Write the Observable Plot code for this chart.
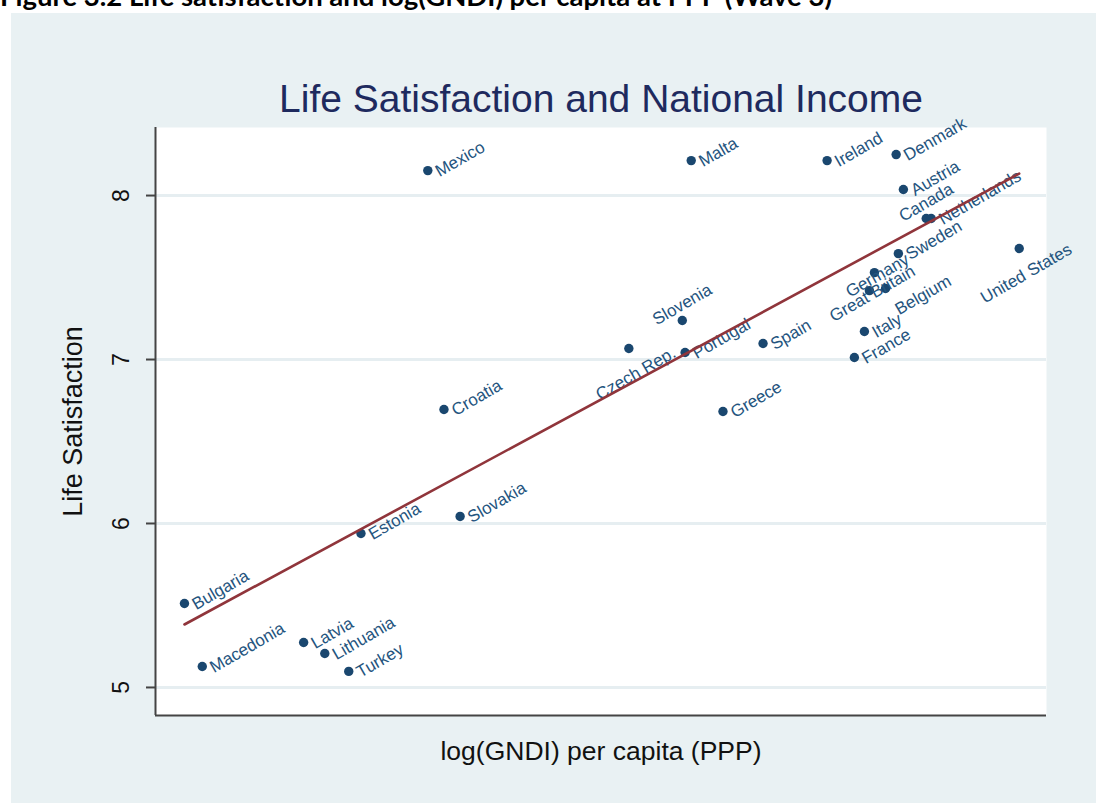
<!DOCTYPE html>
<html>
<head>
<meta charset="utf-8">
<script src="https://cdn.jsdelivr.net/npm/d3@7"></script>
<script src="https://cdn.jsdelivr.net/npm/@observablehq/plot@0.6"></script>
<style>
  body { margin: 0; background: #ffffff; width: 1096px; height: 803px; position: relative; overflow: hidden; }
  #cap { position: absolute; left: 0; top: 0; width: 1096px; height: 12px; overflow: hidden; }
  #cap span { position: absolute; left: 0; top: -18px; font: bold 27.5px/28px Lato, "Open Sans", sans-serif; color: #000; white-space: nowrap; }
  #panel { position: absolute; left: 11px; top: 13px; width: 1085px; height: 790px; background: #e9f1f3; }
</style>
</head>
<body>
<div id="cap"><span>Figure 3.2 Life satisfaction and log(GNDI) per capita at PPP (Wave 3)</span></div>
<div id="panel"></div>
<script>
// ---- data ----
const countries = ["Mexico","Malta","Ireland","Denmark","Austria","Canada","Netherlands","Sweden","United States","Germany","Great Britain","Belgium","Italy","France","Spain","Slovenia","Portugal","Czech Rep.","Greece","Croatia","Slovakia","Estonia","Bulgaria","Macedonia","Latvia","Lithuania","Turkey"];
const logGNDI   = [9.639,10.112,10.356,10.480,10.493,10.534,10.543,10.484,10.701,10.441,10.432,10.461,10.423,10.405,10.241,10.096,10.101,10.000,10.169,9.668,9.697,9.519,9.202,9.234,9.416,9.454,9.497];
const lifeSat   = [8.152,8.213,8.213,8.250,8.037,7.860,7.860,7.646,7.677,7.530,7.420,7.433,7.171,7.012,7.098,7.238,7.043,7.067,6.683,6.695,6.043,5.939,5.512,5.128,5.274,5.207,5.098];
// Stata-style clock position of each marker label
const labelClock = [3,3,3,3,3,12,3,3,6,0,0,4,3,3,3,12,3,6,3,3,3,3,3,3,3,3,3];
// fitted line (linear fit) end points
const fitX = [9.202, 10.701];
const fitY = [5.384, 8.134];
const yTicks = [5, 6, 7, 8];
const xDomain = [9.15, 10.75];
const yDomain = [4.829, 8.415];
const titleText = "Life Satisfaction and National Income";
const xTitle = "log(GNDI) per capita (PPP)";
const yTitle = "Life Satisfaction";

// ---- build ----
const rows = countries.map((c, i) => ({country: c, x: logGNDI[i], y: lifeSat[i], clock: labelClock[i]}));
const fit = fitX.map((x, i) => ({x, y: fitY[i]}));

const FONT = "Liberation Sans, Arial, Helvetica, sans-serif";
const NAVY = "#1a476f";
const clockStyle = {
  3:  {dx: 9,  dy: 2,   textAnchor: "start"},
  12: {dx: 0,  dy: -16, textAnchor: "middle"},
  6:  {dx: 7,  dy: 25,  textAnchor: "middle"},
  0:  {dx: 3,  dy: 3,   textAnchor: "middle"},
  4:  {dx: 11, dy: 22,  textAnchor: "start"}
};
const labelMarks = Object.entries(clockStyle).map(([k, s]) =>
  Plot.text(rows.filter(d => d.clock === +k), {
    x: "x", y: "y", text: "country",
    rotate: -30, lineAnchor: "middle",
    fontSize: 17, fill: "#24547e", fontFamily: FONT,
    ...s
  })
);

const chart = Plot.plot({
  width: 1085,
  height: 789,
  marginLeft: 144,
  marginRight: 50,
  marginTop: 114,
  marginBottom: 87,
  style: {background: "transparent", fontFamily: FONT, overflow: "visible"},
  x: {domain: xDomain, axis: null},
  y: {domain: yDomain, axis: null},
  marks: [
    Plot.frame({fill: "white", stroke: "none"}),
    Plot.gridY(yTicks, {stroke: "#e6eef1", strokeOpacity: 1, strokeWidth: 3}),
    Plot.ruleY([yDomain[0]], {stroke: "#444", strokeWidth: 2}),
    Plot.ruleX([xDomain[0]], {stroke: "#444", strokeWidth: 2}),
    Plot.axisY(yTicks, {ticks: yTicks, tickSize: 9, tickFormat: () => "", stroke: "#444", strokeWidth: 2, label: null}),
    Plot.text(yTicks, {y: d => d, text: d => String(d), frameAnchor: "left", dx: -34, rotate: -90, lineAnchor: "middle", textAnchor: "middle", fontSize: 23, fill: "#111"}),
    Plot.text([yTitle], {frameAnchor: "left", dx: -82, rotate: -90, lineAnchor: "middle", textAnchor: "middle", fontSize: 27, fill: "#111"}),
    Plot.text([xTitle], {frameAnchor: "bottom", dy: 36, lineAnchor: "middle", textAnchor: "middle", fontSize: 26.5, fill: "#111"}),
    Plot.text([titleText], {frameAnchor: "top", dy: -28, lineAnchor: "middle", textAnchor: "middle", fontSize: 39, fill: "#1e2a5e"}),
    Plot.dot(rows, {x: "x", y: "y", r: 4.7, fill: NAVY, stroke: null}),
    ...labelMarks,
    Plot.line(fit, {x: "x", y: "y", stroke: "#90353b", strokeWidth: 2.6})
  ]
});
document.getElementById("panel").appendChild(chart);
</script>
</body>
</html>
